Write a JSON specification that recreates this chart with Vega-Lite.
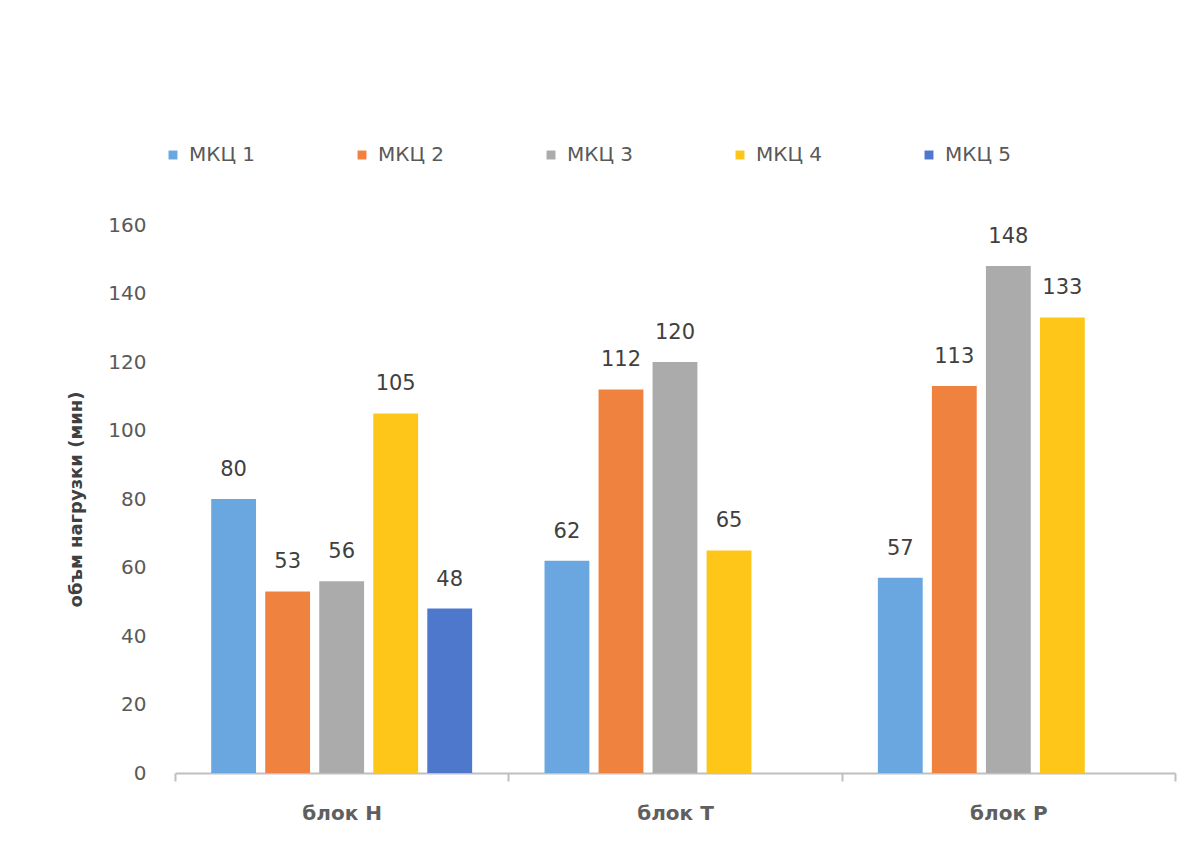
{
  "$schema": "https://vega.github.io/schema/vega-lite/v6.json",
  "autosize": "none",
  "width": 1000,
  "height": 548,
  "padding": {"left": 175, "top": 225, "right": 29, "bottom": 73},
  "background": "white",
  "config": {
    "view": {"stroke": null},
    "font": "DejaVu Sans"
  },
  "data": {
    "values": [
      {"block": "блок Н", "series": "МКЦ 1", "value": 80},
      {"block": "блок Н", "series": "МКЦ 2", "value": 53},
      {"block": "блок Н", "series": "МКЦ 3", "value": 56},
      {"block": "блок Н", "series": "МКЦ 4", "value": 105},
      {"block": "блок Н", "series": "МКЦ 5", "value": 48},
      {"block": "блок Т", "series": "МКЦ 1", "value": 62},
      {"block": "блок Т", "series": "МКЦ 2", "value": 112},
      {"block": "блок Т", "series": "МКЦ 3", "value": 120},
      {"block": "блок Т", "series": "МКЦ 4", "value": 65},
      {"block": "блок Р", "series": "МКЦ 1", "value": 57},
      {"block": "блок Р", "series": "МКЦ 2", "value": 113},
      {"block": "блок Р", "series": "МКЦ 3", "value": 148},
      {"block": "блок Р", "series": "МКЦ 4", "value": 133}
    ]
  },
  "encoding": {
    "x": {
      "field": "block",
      "type": "nominal",
      "sort": ["блок Н", "блок Т", "блок Р"],
      "scale": {"paddingInner": 0, "paddingOuter": 0},
      "axis": {
        "title": null,
        "labelAngle": 0,
        "tickBand": "extent",
        "tickSize": 8,
        "tickColor": "#bfbfbf",
        "tickWidth": 2,
        "domainColor": "#bfbfbf",
        "domainWidth": 2,
        "labelFont": "DejaVu Sans",
        "labelFontSize": 20,
        "labelFontWeight": "bold",
        "labelColor": "#5f5f5f",
        "labelPadding": 22
      }
    },
    "xOffset": {
      "field": "series",
      "type": "nominal",
      "scale": {"domain": ["МКЦ 1", "МКЦ 2", "МКЦ 3", "МКЦ 4", "МКЦ 5"], "paddingInner": 0.17, "paddingOuter": 0.67}
    },
    "y": {
      "field": "value",
      "type": "quantitative",
      "scale": {"domain": [0, 160]},
      "axis": {
        "values": [0, 20, 40, 60, 80, 100, 120, 140, 160],
        "title": "объм нагрузки (мин)",
        "titleFont": "DejaVu Sans",
        "titleFontSize": 18,
        "titleFontWeight": "bold",
        "titleColor": "#404040",
        "titlePadding": 22,
        "grid": false,
        "domain": false,
        "ticks": false,
        "tickSize": 0,
        "labelPadding": 29,
        "labelFontSize": 20,
        "labelColor": "#595959"
      }
    }
  },
  "layer": [
    {
      "mark": {"type": "bar"},
      "encoding": {
        "color": {
          "field": "series",
          "type": "nominal",
          "scale": {
            "domain": ["МКЦ 1", "МКЦ 2", "МКЦ 3", "МКЦ 4", "МКЦ 5"],
            "range": ["#6AA7E0", "#F08240", "#ABABAB", "#FFC61A", "#4E78CC"]
          },
          "legend": {
            "title": null,
            "orient": "none",
            "legendX": -12,
            "legendY": -80,
            "direction": "horizontal",
            "columns": 5,
            "symbolType": "square",
            "symbolSize": 80,
            "symbolStrokeWidth": 0,
            "labelFontSize": 20,
            "labelColor": "#595959",
            "labelOffset": 6,
            "columnPadding": 96
          }
        }
      }
    },
    {
      "mark": {"type": "text", "baseline": "alphabetic", "dy": -23, "fontSize": 21, "color": "#404040"},
      "encoding": {
        "text": {"field": "value", "type": "quantitative"}
      }
    }
  ]
}
